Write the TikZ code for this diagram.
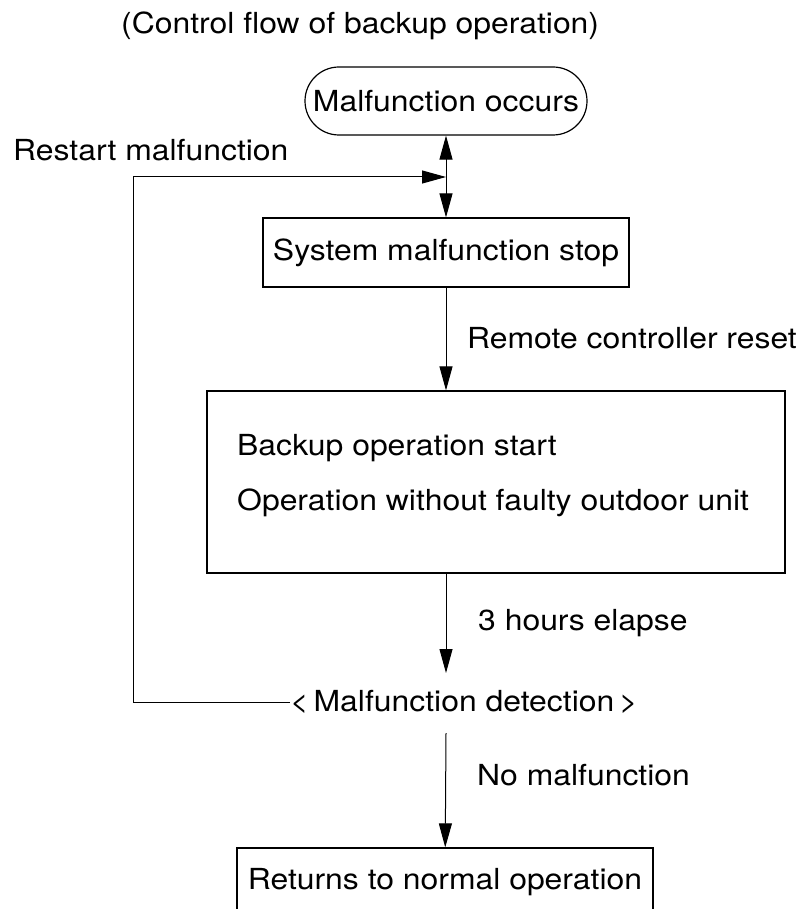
\documentclass[tikz,border=0pt]{standalone}
\usepackage{fontspec}
\setmainfont{TeX Gyre Heros}[FakeStretch=1.1]
\usetikzlibrary{arrows.meta}
\begin{document}
\begin{tikzpicture}[x=1pt,y=1pt,
  font=\fontsize{29}{34}\selectfont,
  txt/.style={inner sep=0pt,anchor=west},
  boxstyle/.style={draw,line width=1.2pt,inner sep=0pt},
  conn/.style={line width=1pt},
  arr/.style={conn,-{Triangle[length=24pt,width=13pt]}}]
\useasboundingbox (0,0) rectangle (807,-909);
\clip (0,0) rectangle (807,-909);
\node[txt] (title) at (121,-26) {(Control flow of backup operation)};
\node[boxstyle,rounded corners=34pt,minimum width=282pt,minimum height=68pt] (start) at (446,-101) {Malfunction occurs};
\coordinate (J) at (446,-177);
\coordinate (L) at (133,-177);
\node[txt] (restart) at (13,-150) {Restart malfunction};
\node[boxstyle,minimum width=366pt,minimum height=69pt] (sys) at (446,-252.5) {System malfunction stop};
\node[txt] (remote) at (467,-338) {Remote controller reset};
\node[boxstyle,minimum width=578pt,minimum height=182pt] (backup) at (496,-482) {};
\node[txt] (b1) at (237,-448) {Backup operation start};
\node[txt] (b2) at (237,-503) {Operation without faulty outdoor unit};
\node[txt] (hours) at (478,-623) {3 hours elapse};
\coordinate (dt) at (446,-673);
\node[txt] (det) at (290,-702) {<\,Malfunction detection\,>};
\coordinate (db) at (446,-733);
\node[txt] (nomal) at (477,-775) {No malfunction};
\node[boxstyle,minimum width=416pt,minimum height=68pt] (ret) at (445,-882) {Returns to normal operation};
\draw[arr] (J) -- (start);
\draw[arr] (J) -- (sys);
\draw[arr] (det.west) -| (L) -- (J);
\draw[arr] (sys.south) -- (sys.south |- backup.north);
\draw[arr] (backup.south -| dt) -- (dt);
\draw[arr] (db) -- (ret);
\end{tikzpicture}
\end{document}
